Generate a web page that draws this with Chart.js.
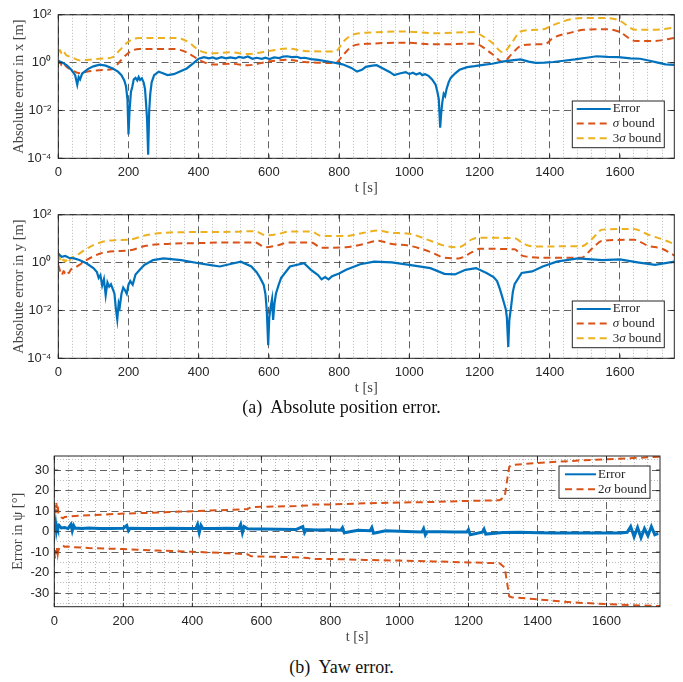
<!DOCTYPE html>
<html>
<head>
<meta charset="utf-8">
<script src="https://cdn.jsdelivr.net/npm/chart.js@4.4.1/dist/chart.umd.min.js"></script>
<style>
  body { margin: 0; background: #fff; width: 683px; height: 682px; position: relative; overflow: hidden; }
  canvas { position: absolute; left: 0; }
  .cap { position: absolute; left: 0; width: 683px; text-align: center; font-family: 'Liberation Serif', serif;
         font-size: 18px; line-height: 20px; color: #111; }
</style>
</head>
<body>
<canvas id="chartX" width="683" height="200" style="top:0"></canvas>
<canvas id="chartY" width="683" height="200" style="top:200px"></canvas>
<div class="cap" style="top:397px">(a)&nbsp; Absolute position error.</div>
<canvas id="chartYaw" width="683" height="210" style="top:440px"></canvas>
<div class="cap" style="top:657px">(b)&nbsp; Yaw error.</div>
<script>
// ---- tick labels ----
const xMajorTicks = [0, 200, 400, 600, 800, 1000, 1200, 1400, 1600];
const xMinorStep = 40;
const logTicks = [1e-4, 1e-2, 1, 100];
const logTickLabels = ['10⁻⁴', '10⁻²', '10⁰', '10²'];
const yawTicks = [-30, -20, -10, 0, 10, 20, 30];
const yawMinorTicks = [-35, -25, -15, -5, 5, 15, 25, 35];

// ---- x position error ----
const tErrX = [0, 8, 15, 25, 37, 48, 54, 58, 62, 68, 85, 100, 118, 135, 155, 170, 180, 188, 193, 197, 200, 203, 207, 211,
  215, 220, 225, 229, 233, 238, 243, 247, 250, 253, 256, 259, 262, 266, 273, 286, 300, 311, 329, 345, 366, 385, 400, 415,
  429, 440, 450, 465, 478, 490, 505, 515, 528, 540, 553, 565, 580, 590, 602, 615, 630, 640, 652, 665, 680, 690, 702, 720,
  740, 776, 810, 835, 851, 865, 876, 895, 907, 925, 945, 957, 975, 990, 1000, 1010, 1020, 1030, 1037, 1045, 1055, 1065,
  1075, 1080, 1084, 1088, 1091, 1094, 1098, 1102, 1106, 1112, 1118, 1130, 1143, 1165, 1186, 1210, 1236, 1265, 1292, 1317,
  1340, 1360, 1385, 1410, 1440, 1472, 1505, 1534, 1565, 1596, 1630, 1658, 1685, 1708, 1730, 1755];
const errX = [1.2, 1.05, 0.95, 0.75, 0.5, 0.3, 0.12, 0.25, 0.2, 0.35, 0.55, 0.7, 0.83, 0.75, 0.57, 0.42, 0.3, 0.18, 0.1, 0.03,
  0.001, 0.01, 0.06, 0.1, 0.2, 0.23, 0.18, 0.25, 0.19, 0.22, 0.15, 0.08, 0.02, 0.004, 0.00014, 0.01, 0.05, 0.15, 0.3, 0.42,
  0.35, 0.3, 0.33, 0.42, 0.57, 0.95, 1.45, 1.7, 1.5, 1.65, 1.45, 1.7, 1.5, 1.65, 1.5, 1.75, 1.6, 1.8, 1.45, 1.6, 1.45, 1.6,
  1.4, 1.65, 1.55, 1.8, 1.85, 1.7, 1.75, 1.55, 1.6, 1.4, 1.3, 1.06, 0.85, 0.6, 0.42, 0.5, 0.67, 0.75, 0.78, 0.57, 0.4, 0.3,
  0.36, 0.4, 0.33, 0.38, 0.32, 0.37, 0.3, 0.33, 0.28, 0.2, 0.12, 0.06, 0.03, 0.0019, 0.008, 0.022, 0.05, 0.04, 0.077, 0.15,
  0.23, 0.35, 0.5, 0.65, 0.71, 0.8, 0.9, 1.1, 1.24, 1.36, 1.1, 0.97, 1.0, 1.06, 1.2, 1.36, 1.6, 1.85, 1.75, 1.7, 1.5, 1.45,
  1.2, 1.0, 0.85, 0.8];
const tBoundX = [0, 5, 10, 15, 22, 37, 62, 81, 130, 155, 174, 202, 230, 329, 366, 404, 441, 491, 540, 602, 652, 702, 789,
  814, 839, 888, 988, 1075, 1186, 1199, 1236, 1267, 1292, 1317, 1360, 1385, 1410, 1460, 1497, 1559, 1596, 1646, 1696, 1755];
const sigmaX = [0.9, 1.1, 0.75, 0.95, 0.7, 0.5, 0.36, 0.42, 0.5, 0.54, 1.06, 2.7, 3.7, 3.7, 2.7, 1.24, 0.83, 0.9, 0.78, 1.13,
  1.32, 1.06, 0.97, 2.3, 5, 6.2, 6.8, 5.8, 6.2, 5.5, 2.3, 1.06, 2.3, 5, 5.8, 5.8, 10.8, 18, 23.5, 25, 20, 8, 8, 10.8];
const sigma3X = [2.7, 3.4, 2.3, 2.9, 2.1, 1.7, 1.24, 1.3, 1.5, 1.7, 3.2, 8, 10.8, 10.8, 8, 3.1, 2.45, 2.7, 2.3, 3.1, 3.9, 3.1,
  2.9, 8, 14.7, 18, 20, 17, 19, 15.7, 6.8, 2.7, 6.8, 20, 23.5, 25.6, 37, 65, 74, 74, 60, 23.5, 23.5, 29];

// ---- y position error ----
const tErrY = [0, 5, 10, 20, 30, 45, 60, 80, 100, 110, 115, 120, 125, 130, 135, 140, 145, 150, 155, 160, 164, 168, 172, 175,
  180, 185, 190, 195, 200, 205, 212, 220, 232, 245, 270, 300, 350, 400, 430, 460, 500, 520, 550, 565, 575, 585, 590, 594, 598,
  601, 605, 609, 612, 616, 620, 628, 635, 660, 700, 720, 740, 750, 760, 770, 780, 800, 820, 860, 900, 950, 1000, 1060, 1100,
  1130, 1160, 1190, 1220, 1240, 1250, 1258, 1265, 1270, 1275, 1278, 1282, 1285, 1290, 1295, 1300, 1320, 1350, 1380, 1420,
  1480, 1550, 1600, 1650, 1700, 1755];
const errY = [2.4, 2.0, 1.75, 1.9, 1.6, 1.5, 1.28, 0.94, 0.59, 0.4, 0.23, 0.3, 0.11, 0.2, 0.043, 0.15, 0.1, 0.125, 0.08, 0.05,
  0.012, 0.0042, 0.02, 0.014, 0.05, 0.09, 0.07, 0.05, 0.12, 0.17, 0.12, 0.32, 0.5, 0.8, 1.28, 1.5, 1.28, 0.94, 0.8, 0.69,
  0.94, 1.1, 0.69, 0.4, 0.23, 0.12, 0.05, 0.01, 0.00035, 0.005, 0.014, 0.03, 0.004, 0.02, 0.05, 0.12, 0.23, 0.69, 0.94, 0.5,
  0.3, 0.2, 0.25, 0.2, 0.27, 0.35, 0.5, 0.86, 1.1, 1.03, 0.8, 0.59, 0.34, 0.32, 0.5, 0.59, 0.37, 0.25, 0.17, 0.08, 0.036,
  0.02, 0.011, 0.005, 0.0003, 0.004, 0.014, 0.06, 0.125, 0.37, 0.43, 0.69, 1.1, 1.5, 1.28, 1.36, 1.03, 0.8, 1.1];
const tBoundY = [0, 5, 10, 15, 20, 25, 30, 35, 45, 60, 80, 120, 160, 200, 250, 300, 400, 500, 560, 590, 620, 660, 720, 750,
  820, 870, 910, 950, 1000, 1060, 1100, 1140, 1180, 1200, 1300, 1320, 1340, 1370, 1430, 1490, 1520, 1550, 1640, 1680, 1720, 1755];
const sigmaY = [0.8, 0.45, 0.3, 0.45, 0.35, 0.45, 0.37, 0.5, 0.59, 0.8, 1.28, 2.4, 3.0, 3.2, 5.1, 6, 6.6, 7, 7, 4.4, 5.1, 7, 7,
  4.15, 4.4, 6, 8.2, 6, 5.1, 2.8, 1.6, 1.5, 2.8, 3.8, 3.6, 2.0, 1.75, 1.6, 1.6, 1.6, 3.8, 8.2, 9, 5.1, 3.8, 2.0];
const sigma3Y = [2.4, 1.4, 1.0, 1.35, 1.1, 1.4, 1.1, 1.5, 1.8, 2.4, 3.8, 7, 8.7, 9, 14, 17.7, 19, 19.5, 20.7, 14, 15, 20, 20,
  13, 13, 17.7, 22, 17.7, 16, 8.2, 5.1, 4.4, 9.6, 11, 10.5, 7, 5.1, 4.7, 4.8, 4.8, 9.6, 24, 25.7, 15, 9.6, 6];

// ---- yaw error ----
const tYaw = [0, 2, 4, 6, 8, 10, 14, 20, 30, 40, 48, 52, 56, 60, 80, 100, 130, 160, 200, 210, 215, 220, 260, 300, 340, 380,
  410, 415, 420, 425, 430, 460, 500, 535, 540, 545, 550, 560, 600, 650, 700, 720, 725, 730, 760, 800, 830, 835, 840, 880,
  915, 920, 925, 960, 1000, 1040, 1065, 1070, 1075, 1080, 1120, 1160, 1195, 1200, 1205, 1240, 1245, 1250, 1300, 1350, 1400,
  1450, 1500, 1550, 1600, 1640, 1660, 1670, 1680, 1690, 1700, 1710, 1720, 1730, 1740, 1750];
const errYaw = [5, 1, 3.5, 0.5, 2.5, 1.5, 3, 1.8, 2, 1.5, 3.5, 0.5, 3, 1.8, 1.5, 1.8, 1.5, 1.6, 1.7, 3, 0.5, 1.7, 1.6, 1.5,
  1.7, 1.6, 1.5, 3.5, -0.5, 3, 1.6, 1.6, 1.7, 1.5, 3.5, -0.5, 2.5, 1.4, 1.3, 1.2, 1.0, 2.5, -0.5, 1.0, 0.8, 0.9, 0.7, 2.0,
  -0.5, 0.7, 0.5, 2.0, -0.8, 0.4, 0.2, 0.0, -0.2, 1.5, -1.5, 0, -0.1, -0.2, -0.2, 1.0, -1.5, -0.3, 1.2, -1.2, -0.4, -0.3,
  -0.5, -0.6, -0.7, -0.6, -0.6, -0.6, -0.3, 2.5, -2.5, 2, -3, 1.5, -2, 2.5, -1.5, -0.8];
const tBoundYaw = [0, 2, 4, 6, 8, 10, 12, 15, 20, 25, 30, 40, 50, 100, 200, 300, 400, 500, 560, 570, 700, 735, 745, 800, 900,
  1000, 1100, 1200, 1290, 1305, 1312, 1318, 1325, 1400, 1500, 1600, 1700, 1755];
const upperYaw = [10, 13, 9, 14, 11, 12.5, 9, 8, 7, 6.5, 7.2, 7.3, 7.5, 8, 8.8, 9.3, 10, 10.6, 11, 12, 12.5, 12.8, 13.2,
  13.3, 13.8, 14.2, 14.5, 15, 15.3, 17, 25, 31.5, 32.5, 33.5, 34.5, 35.3, 36.1, 36.6];
const lowerYaw = [-10, -13, -9, -12, -8, -11, -9, -8, -7, -6.8, -7.3, -7.2, -7.5, -8, -8.5, -9.2, -9.8, -10.5, -11, -12,
  -12.5, -12.8, -13.3, -13.3, -13.8, -14.1, -14.5, -15, -15.4, -17.5, -25, -31.5, -32, -33, -34.5, -35.3, -36, -36.3];

const BLUE = '#0072BD', ORANGE = '#D95319', YELLOW = '#EDB120';
const MAJOR = 'rgba(60,60,60,0.8)', MINOR = 'rgba(160,160,160,0.75)';
const DASH = [7, 4.5];

Chart.defaults.font.family = "'Liberation Sans', Arial, sans-serif";
Chart.defaults.animation = false;

const xGridTicks = [];
for (let t = 0; t <= 1755; t += xMinorStep) xGridTicks.push(t);
const yawGridTicks = yawTicks.concat(yawMinorTicks).sort((a, b) => a - b);

const pts = (ts, vs) => ts.map((t, i) => ({ x: t, y: vs[i] }));

const framePlugin = {
  id: 'frame',
  afterDraw(chart, args, opts) {
    const { ctx, chartArea: a, scales } = chart;
    ctx.save();
    ctx.strokeStyle = '#262626';
    ctx.lineWidth = 1;
    ctx.setLineDash([]);
    ctx.strokeRect(a.left, a.top, a.right - a.left, a.bottom - a.top);
    ctx.beginPath();
    xMajorTicks.forEach(v => {
      const p = scales.x.getPixelForValue(v);
      ctx.moveTo(p, a.bottom); ctx.lineTo(p, a.bottom - 4);
      ctx.moveTo(p, a.top); ctx.lineTo(p, a.top + 4);
    });
    opts.yTicks.forEach(v => {
      const p = scales.y.getPixelForValue(v);
      ctx.moveTo(a.left, p); ctx.lineTo(a.left + 4, p);
      ctx.moveTo(a.right, p); ctx.lineTo(a.right - 4, p);
    });
    ctx.stroke();
    ctx.restore();
  }
};

const boxLegend = {
  id: 'boxLegend',
  afterDraw(chart, args, o) {
    const ctx = chart.ctx;
    ctx.save();
    ctx.fillStyle = '#fff';
    ctx.fillRect(o.x, o.y, o.w, o.h);
    ctx.strokeStyle = '#262626';
    ctx.lineWidth = 1;
    ctx.setLineDash([]);
    ctx.strokeRect(o.x, o.y, o.w, o.h);
    let row = 0;
    chart.data.datasets.forEach(ds => {
      if (ds.hideInLegend) return;
      const y = o.y + o.first + row * o.step;
      row++;
      ctx.strokeStyle = ds.borderColor;
      ctx.lineWidth = Math.min(ds.borderWidth, 2);
      ctx.setLineDash(ds.borderDash || []);
      ctx.beginPath();
      ctx.moveTo(o.x + o.l0, y);
      ctx.lineTo(o.x + o.l1, y);
      ctx.stroke();
      ctx.setLineDash([]);
      ctx.fillStyle = '#262626';
      ctx.textBaseline = 'middle';
      let x = o.x + o.tx;
      ds.label.split(/(σ)/).forEach(part => {
        if (!part) return;
        ctx.font = (part === 'σ' ? 'italic ' : '') + "13px 'Liberation Serif', serif";
        ctx.fillText(part, x, y);
        x += ctx.measureText(part).width;
      });
    });
    ctx.restore();
  }
};

const isMajorX = c => c.tick && xMajorTicks.includes(c.tick.value);
const titleFont = { family: "'Liberation Serif', serif", size: 14.5 };

function xScale(h, pad, titlePad) {
  return {
    type: 'linear', min: 0, max: 1755,
    afterBuildTicks: s => { s.ticks = xGridTicks.map(v => ({ value: v })); },
    afterFit: s => { s.height = h; },
    ticks: { autoSkip: false, maxRotation: 0, padding: pad, color: '#262626', font: { size: 13 },
             callback: v => xMajorTicks.includes(v) ? String(v) : '' },
    grid: { drawTicks: false, lineWidth: 1, color: c => isMajorX(c) ? MAJOR : MINOR },
    border: { display: false, dash: c => isMajorX(c) ? DASH : [1, 2] },
    title: { display: true, text: 't [s]', color: '#444', font: titleFont, padding: { top: 0, bottom: titlePad } }
  };
}

function logYScale(label) {
  return {
    type: 'logarithmic', min: 1e-4, max: 100,
    afterBuildTicks: s => { s.ticks = logTicks.map(v => ({ value: v })); },
    afterFit: s => { s.width = 58.3; },
    ticks: { autoSkip: false, padding: 7, color: '#262626', font: { size: 13 },
             callback: (v, i) => logTickLabels[i] },
    grid: { drawTicks: false, lineWidth: 1, color: MAJOR },
    border: { display: false, dash: DASH },
    title: { display: true, text: label, color: '#444', font: titleFont, padding: { top: 10.6, bottom: 0 } }
  };
}

const legendGeom = { x: 572.3, y: 101, w: 92, h: 46.7, first: 8, step: 14.6, l0: 4.4, l1: 38.4, tx: 40.4 };

function posChart(id, tErr, err, tB, sig, sig3, label) {
  return new Chart(document.getElementById(id), {
    type: 'line',
    data: {
      datasets: [
        { label: 'Error', data: pts(tErr, err), borderColor: BLUE, borderWidth: 2.2, pointRadius: 0, tension: 0 },
        { label: 'σ bound', data: pts(tB, sig), borderColor: ORANGE, borderWidth: 2, borderDash: DASH, pointRadius: 0,
          cubicInterpolationMode: 'monotone' },
        { label: '3σ bound', data: pts(tB, sig3), borderColor: YELLOW, borderWidth: 2, borderDash: DASH, pointRadius: 0,
          cubicInterpolationMode: 'monotone' }
      ]
    },
    options: {
      responsive: false,
      layout: { padding: { top: 9.3, right: 8.7, left: 0, bottom: 0 } },
      scales: { x: xScale(41.7, 6, 3), y: logYScale(label) },
      plugins: {
        legend: { display: false }, tooltip: { enabled: false },
        frame: { yTicks: logTicks },
        boxLegend: legendGeom
      }
    },
    plugins: [framePlugin, boxLegend]
  });
}

posChart('chartX', tErrX, errX, tBoundX, sigmaX, sigma3X, 'Absolute error in x [m]');
posChart('chartY', tErrY, errY, tBoundY, sigmaY, sigma3Y, 'Absolute error in y [m]');

const isMajorYaw = c => c.tick && yawTicks.includes(c.tick.value);
new Chart(document.getElementById('chartYaw'), {
  type: 'line',
  data: {
    datasets: [
      { label: 'Error', data: pts(tYaw, errYaw), borderColor: BLUE, borderWidth: 3, pointRadius: 0 },
      { label: '2σ bound', data: pts(tBoundYaw, upperYaw), borderColor: ORANGE, borderWidth: 2, borderDash: DASH, pointRadius: 0 },
      { label: '2σ bound', data: pts(tBoundYaw, lowerYaw), borderColor: ORANGE, borderWidth: 2, borderDash: DASH, pointRadius: 0,
        hideInLegend: true }
    ]
  },
  options: {
    responsive: false,
    layout: { padding: { top: 16, right: 23, left: 0, bottom: 0 } },
    scales: {
      x: xScale(43.3, 7, 4),
      y: {
        type: 'linear', min: -36.6, max: 36.9,
        afterBuildTicks: s => { s.ticks = yawGridTicks.map(v => ({ value: v })); },
        afterFit: s => { s.width = 54.3; },
        ticks: { autoSkip: false, padding: 5, color: '#262626', font: { size: 13 },
                 callback: v => yawTicks.includes(v) ? String(v) : '' },
        grid: { drawTicks: false, lineWidth: 1, color: c => isMajorYaw(c) ? MAJOR : MINOR },
        border: { display: false, dash: c => isMajorYaw(c) ? DASH : [1, 2] },
        title: { display: true, text: 'Error in ψ [°]', color: '#444', font: titleFont, padding: { top: 9.6, bottom: 0 } }
      }
    },
    plugins: {
      legend: { display: false }, tooltip: { enabled: false },
      frame: { yTicks: yawTicks },
      boxLegend: { x: 559, y: 26, w: 91, h: 32.3, first: 8.3, step: 15, l0: 6, l1: 37, tx: 39 }
    }
  },
  plugins: [framePlugin, boxLegend]
});
</script>
</body>
</html>
